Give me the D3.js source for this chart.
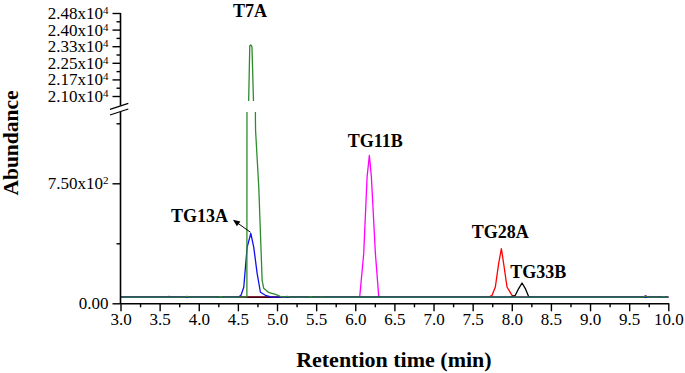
<!DOCTYPE html>
<html>
<head>
<meta charset="utf-8">
<script src="https://cdn.jsdelivr.net/npm/d3@7"></script>
<style>
body{margin:0;background:#fff}
svg{display:block}
text{font-family:"Liberation Serif","Times New Roman",serif;fill:#000}
</style>
</head>
<body>
<div id="chart"></div>
<script>
// [retention time (min), abundance]
const t7a = [[3.0,38],[3.82,38],[3.85,43],[3.88,38],[4.25,38],[4.28,41],[4.31,38],[4.58,38],[4.615,40],
  [4.635,20300],[4.652,23300],[4.665,23340],[4.68,23250],[4.70,20700],[4.724,1150],[4.726,1080],
  [4.767,725],[4.81,144],[4.83,94],[4.89,69],[4.98,56],[5.04,44],[5.08,38],[5.13,43],[5.17,38],
  [5.40,38],[5.43,41],[5.46,38],[5.55,38],[5.58,40],[5.61,38],[9.68,38],[9.71,46],[9.74,38],
  [9.92,38],[9.94,41],[9.96,38],[10.0,38]]
const tg13a = [[3.0,38],[4.50,38],[4.54,50],[4.575,100],[4.618,350],[4.665,437],[4.703,350],
  [4.746,187],[4.788,69],[4.852,50],[4.92,40],[5.0,38],[10.0,38]]
const tg11b = [[3.0,38],[3.59,38],[3.62,44],[3.65,38],[6.03,38],[6.057,42],[6.108,312],[6.151,789],
  [6.18,925],[6.206,789],[6.257,312],[6.30,42],[6.33,38],[9.68,38],[9.71,48],[9.74,38],[10.0,38]]
const tg28a = [[3.0,38],[7.70,38],[7.748,50],[7.79,102],[7.832,248],[7.867,342],[7.896,248],
  [7.939,102],[8.003,50],[8.04,40],[8.10,38],[10.0,38]]
const tg33b = [[3.0,38],[7.98,38],[8.045,50],[8.088,92],[8.131,127],[8.173,92],[8.215,42],
  [8.26,38],[10.0,38]]

const xTicks = [3.0,3.5,4.0,4.5,5.0,5.5,6.0,6.5,7.0,7.5,8.0,8.5,9.0,9.5,10.0]
const xMinor = [3.25,3.75,4.25,4.75,5.25,5.75,6.25,6.75,7.25,7.75,8.25,8.75,9.25,9.75]
const lowTicks = [0,750]
const lowTickLabels = [["0.00",""],["7.50x10","2"]]
const lowMinor = [375,1125]
const highTicks = [21000,21760,22520,23280,24040,24800]
const highTickLabels = [["2.10x10","4"],["2.17x10","4"],["2.25x10","4"],["2.33x10","4"],["2.40x10","4"],["2.48x10","4"]]
const highMinor = [21380,22140,22900,23660,24420]

// peak labels: [text, time, abundance]
const peakLabels = [["T7A",4.655,24617],["TG13A",4.008,506],["TG11B",6.256,975],["TG28A",7.853,406],["TG33B",8.339,156]]

const series = [
  {data:tg11b, color:"#ff00ff"},
  {data:tg28a, color:"#ff0000"},
  {data:tg33b, color:"#000000"},
  {data:tg13a, color:"#1010ee"},
  {data:t7a, color:"#2e8b2e"}
]

const W = 685, H = 373

const svg = d3.select("#chart").append("svg")
  .attr("width",W).attr("height",H)

const x = d3.scaleLinear().domain([3,10]).range([120.5,668.3])
const yLow = d3.scaleLinear().domain([0,1190]).range([303.3,112.9])
const yHigh = d3.scaleLinear().domain([20680,24800]).range([103,13])

// clips for the two panels of the broken axis
const defs = svg.append("defs")
defs.append("clipPath").attr("id","lowClip").append("rect")
  .attr("x",121).attr("y",112).attr("width",560).attr("height",192)
defs.append("clipPath").attr("id","highClip").append("rect")
  .attr("x",121).attr("y",0).attr("width",560).attr("height",101)

series.forEach(s=>{
  [["lowClip",yLow],["highClip",yHigh]].forEach(([clip,y])=>{
    svg.append("path")
      .datum(s.data)
      .attr("clip-path",`url(#${clip})`)
      .attr("fill","none")
      .attr("stroke",s.color)
      .attr("stroke-width",1.3)
      .attr("stroke-linejoin","round")
      .attr("d",d3.line().x(d=>x(d[0])).y(d=>y(d[1])))
  })
})

// x axis
const xg = svg.append("g")
  .attr("transform",`translate(0,${yLow(0)})`)
  .call(d3.axisBottom(x).tickValues(xTicks).tickSize(8).tickSizeOuter(0).tickPadding(2).tickFormat(d3.format(".1f")))
svg.append("g")
  .attr("transform",`translate(0,${yLow(0)})`)
  .call(d3.axisBottom(x).tickValues(xMinor).tickSize(4).tickSizeOuter(0).tickFormat(""))
  .select(".domain").remove()

// y axes, lower and upper segment
const supLabels = (g, labels)=>{
  g.selectAll(".tick text").each(function(d,i){
    const t = d3.select(this).text(null)
    t.append("tspan").text(labels[i][0])
    if(labels[i][1]) t.append("tspan").attr("dy","-0.45em").style("font-size","11px").text(labels[i][1])
  })
}

const ylg = svg.append("g").attr("transform",`translate(${x(3)},0)`)
  .call(d3.axisLeft(yLow).tickValues(lowTicks).tickSize(8).tickPadding(4))
ylg.call(supLabels,lowTickLabels)
svg.append("g").attr("transform",`translate(${x(3)},0)`)
  .call(d3.axisLeft(yLow).tickValues(lowMinor).tickSize(4).tickFormat(""))
  .select(".domain").remove()

const yhg = svg.append("g").attr("transform",`translate(${x(3)},0)`)
  .call(d3.axisLeft(yHigh).tickValues(highTicks).tickSize(8).tickPadding(4))
yhg.call(supLabels,highTickLabels)
svg.append("g").attr("transform",`translate(${x(3)},0)`)
  .call(d3.axisLeft(yHigh).tickValues(highMinor).tickSize(4).tickFormat(""))
  .select(".domain").remove()

ylg.select(".domain").remove()
yhg.select(".domain").remove()

svg.selectAll(".tick text").style("font-size","17px").style("font-family","'Liberation Serif',serif")
svg.selectAll(".tick line").attr("stroke-width",1.4)
xg.select(".domain").attr("stroke-width",1.6)

// axis lines with the break marks
const ax = svg.append("g").attr("stroke","#000").attr("stroke-width",1.6)
ax.append("line").attr("x1",x(3)).attr("x2",x(3)).attr("y1",yLow(0)+0.8).attr("y2",111.5)
ax.append("line").attr("x1",x(3)).attr("x2",x(3)).attr("y1",105.5).attr("y2",yHigh(24800))
ax.append("line").attr("x1",x(3)-10.5).attr("y1",109.3).attr("x2",x(3)+7.8).attr("y2",103.3).attr("stroke-width",1.3)
ax.append("line").attr("x1",x(3)-10.5).attr("y1",115).attr("x2",x(3)+7.8).attr("y2",109).attr("stroke-width",1.3)

// peak labels
svg.selectAll(".peak")
  .data(peakLabels)
  .join("text")
  .attr("class","peak")
  .attr("x",d=>x(d[1]))
  .attr("y",d=>d[2]>20000 ? yHigh(d[2]) : yLow(d[2]))
  .attr("text-anchor","middle")
  .style("font-size","18px")
  .style("font-weight","bold")
  .text(d=>d[0])

// arrow TG13A
const ax0 = x(4.661), ay0 = yLow(444), ax1 = x(4.437), ay1 = yLow(522)
const ang = Math.atan2(ay1-ay0, ax1-ax0)
svg.append("line").attr("x1",ax0).attr("y1",ay0).attr("x2",ax1-5*Math.cos(ang)).attr("y2",ay1-5*Math.sin(ang))
  .attr("stroke","#000").attr("stroke-width",1)
const hl = 7, hw = 3
svg.append("path")
  .attr("d",`M${ax1},${ay1}L${ax1-hl*Math.cos(ang)+hw*Math.sin(ang)},${ay1-hl*Math.sin(ang)-hw*Math.cos(ang)}L${ax1-hl*Math.cos(ang)-hw*Math.sin(ang)},${ay1-hl*Math.sin(ang)+hw*Math.cos(ang)}Z`)
  .attr("fill","#000")

// titles
svg.append("text")
  .attr("x",(x(3)+x(10))/2-0.5).attr("y",367)
  .attr("text-anchor","middle")
  .style("font-size","22px").style("font-weight","bold")
  .text("Retention time (min)")

svg.append("text")
  .attr("transform","translate(18,143) rotate(-90)")
  .attr("text-anchor","middle")
  .style("font-size","21.5px").style("font-weight","bold")
  .text("Abundance")
</script>
</body>
</html>
